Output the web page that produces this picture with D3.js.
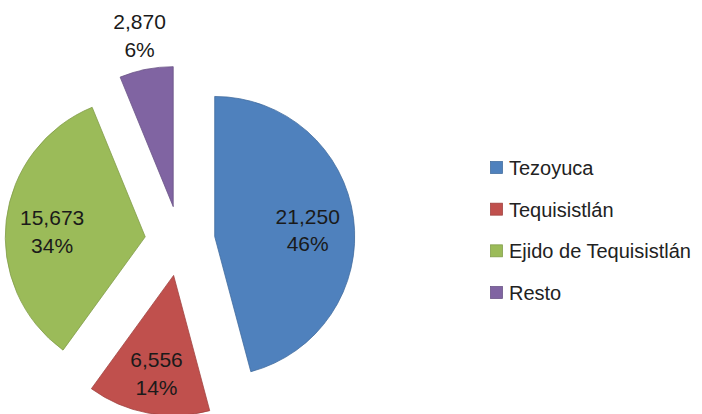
<!DOCTYPE html>
<html>
<head>
<meta charset="utf-8">
<script src="https://cdn.jsdelivr.net/npm/d3@7/dist/d3.min.js"></script>
<style>
  html, body { margin: 0; padding: 0; background: #fff; }
  svg { display: block; font-family: "Liberation Sans", Arial, sans-serif; }
</style>
</head>
<body>
<svg width="702" height="414"></svg>
<script>
// data
const categories = ['Tezoyuca', 'Tequisistlán', 'Ejido de Tequisistlán', 'Resto'];
const values = [21250, 6556, 15673, 2870];
const colors = ['#4F81BD', '#C0504D', '#9BBB59', '#8064A2'];
const strokes = ['#3f6a9c', '#9e3f3c', '#7f9a47', '#675083'];

const svg = d3.select('svg');
const center = {x: 180, y: 241};
const radius = 140;
const explode = 35;

const total = d3.sum(values);
const rows = categories.map((c, i) => ({name: c, value: values[i], color: colors[i], stroke: strokes[i]}));

// Excel style: start at 12 o'clock, go clockwise, keep order
const pie = d3.pie().value(d => d.value).sort(null);
const arc = d3.arc().innerRadius(0).outerRadius(radius);
const arcs = pie(rows);

const fmt = d3.format(',');
const pct = v => Math.round(v / total * 100) + '%';

const g = svg.append('g')
  .attr('transform', 'translate(' + center.x + ',' + center.y + ')');

function offset(a, dist) {
  const mid = (a.startAngle + a.endAngle) / 2;
  return [Math.sin(mid) * dist, -Math.cos(mid) * dist];
}

g.selectAll('.slice')
  .data(arcs)
  .enter()
  .append('path')
    .attr('class', 'slice')
    .attr('d', arc)
    .attr('fill', d => d.data.color)
    .attr('stroke', d => d.data.stroke)
    .attr('stroke-width', 0.75)
    .attr('transform', d => 'translate(' + offset(d, explode) + ')');

// labels: inside for big slices, outside for the small one
const labels = g.selectAll('.label')
  .data(arcs)
  .enter()
  .append('g')
    .attr('class', 'label')
    .attr('transform', d => {
      const small = d.data.value / total < 0.1;
      const dist = small ? explode + radius + 34 : explode + radius * 0.67;
      const p = offset(d, dist);
      if (!small) p[1] += 6; // excel sits the inside labels a little low
      return 'translate(' + p + ')';
    });

labels.append('text')
  .attr('text-anchor', 'middle')
  .attr('dy', '-0.32em')
  .attr('font-size', 21)
  .attr('fill', '#1a1a1a')
  .text(d => fmt(d.data.value));

labels.append('text')
  .attr('text-anchor', 'middle')
  .attr('dy', '1.0em')
  .attr('font-size', 21)
  .attr('fill', '#1a1a1a')
  .text(d => pct(d.data.value));

// legend
const legendY = d3.scalePoint().domain(categories).range([168, 293]);
const legend = svg.selectAll('.legend')
  .data(rows)
  .enter()
  .append('g')
    .attr('class', 'legend')
    .attr('transform', d => 'translate(490,' + legendY(d.name) + ')');

legend.append('rect')
  .attr('x', 0.5)
  .attr('y', -6.5)
  .attr('width', 12)
  .attr('height', 12)
  .attr('fill', d => d.color)
  .attr('stroke', d => d.stroke)
  .attr('stroke-width', 0.75);

legend.append('text')
  .attr('x', 19)
  .attr('y', 0)
  .attr('dy', '0.35em')
  .attr('font-size', 20)
  .attr('fill', '#222')
  .text(d => d.name);
</script>
</body>
</html>
